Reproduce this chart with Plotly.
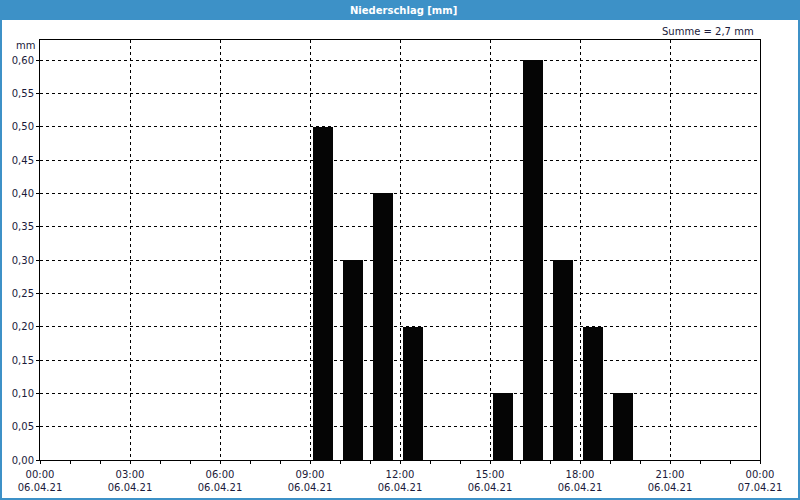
import plotly.graph_objects as go

# Data
day = "2021-04-06"
hours = ["09:00", "10:00", "11:00", "12:00", "13:00", "14:00", "15:00", "16:00", "17:00", "18:00", "19:00"]
values = [0.5, 0.3, 0.4, 0.2, 0.0, 0.0, 0.1, 0.6, 0.3, 0.2, 0.1]
title_text = "Niederschlag [mm]"
sum_text = "Summe = 2,7 mm"
unit_text = "mm"

x = [f"{day} {h}" for h in hours]

TXT = "#1a1a3a"
FONT = "DejaVu Sans"
BLUE = "#3d91c7"
H_MS = 3600000

fig = go.Figure()
fig.add_trace(go.Bar(
    x=x, y=values,
    offset=0.09 * H_MS, width=0.68 * H_MS,
    marker=dict(color="#050505", line=dict(width=0)),
    hoverinfo="x+y",
))

fig.update_layout(
    width=800, height=500,
    margin=dict(l=40, r=40, t=40, b=40, autoexpand=False),
    paper_bgcolor="white", plot_bgcolor="white",
    separators=",.",
    showlegend=False,
    bargap=0,
    font=dict(family=FONT, size=10, color=TXT),
)

fig.update_xaxes(
    type="date",
    automargin=False,
    range=["2021-04-06 00:00", "2021-04-07 00:00"],
    dtick=3 * H_MS, tick0="2021-04-06 00:00",
    tickformat="%H:%M<br>%d.%m.%y",
    showgrid=True, gridcolor="black", gridwidth=1, griddash="3px,3px",
    showline=True, linecolor="black", linewidth=1, mirror=True,
    ticks="outside", ticklen=3, tickcolor="black",
    ticklabelstandoff=2,
    minor=dict(dtick=H_MS, ticks="outside", ticklen=3, tickcolor="black", showgrid=False),
    zeroline=False,
    tickfont=dict(family=FONT, size=10, color=TXT),
)
fig.update_yaxes(
    automargin=False,
    range=[0, 0.63],
    dtick=0.05, tick0=0,
    tickformat=".2f",
    showgrid=True, gridcolor="black", gridwidth=1, griddash="3px,3px",
    showline=True, linecolor="black", linewidth=1, mirror=True,
    ticks="outside", ticklen=3, tickcolor="black",
    zeroline=False,
    tickfont=dict(family=FONT, size=10, color=TXT),
)

# Title bar and window border (paper coords: plot spans 40..760 x, 40..460 y)
def px_x(p):
    return (p - 40) / 720.0

def px_y(p):
    return (460 - p) / 420.0

fig.add_shape(type="rect", xref="paper", yref="paper",
              x0=px_x(0), x1=px_x(800), y0=px_y(20), y1=px_y(0),
              fillcolor=BLUE, line=dict(width=0), layer="above")
fig.add_shape(type="rect", xref="paper", yref="paper",
              x0=px_x(1), x1=px_x(799), y0=px_y(499), y1=px_y(1),
              fillcolor="rgba(0,0,0,0)", line=dict(color=BLUE, width=2), layer="above")

fig.add_annotation(text=f"<b>{title_text}</b>", xref="paper", yref="paper",
                   x=px_x(403), y=px_y(10), xanchor="center", yanchor="middle",
                   showarrow=False, font=dict(family=FONT, size=10, color="white"))
fig.add_annotation(text=sum_text, xref="paper", yref="paper",
                   x=1, y=1, xanchor="right", yanchor="middle", xshift=-4, yshift=9,
                   showarrow=False, font=dict(family=FONT, size=10, color=TXT))
fig.add_annotation(text=unit_text, xref="paper", yref="paper",
                   x=0, y=1, xanchor="right", yanchor="middle", xshift=-3, yshift=-5,
                   showarrow=False, font=dict(family=FONT, size=10, color=TXT))

fig.write_html("out.html")
